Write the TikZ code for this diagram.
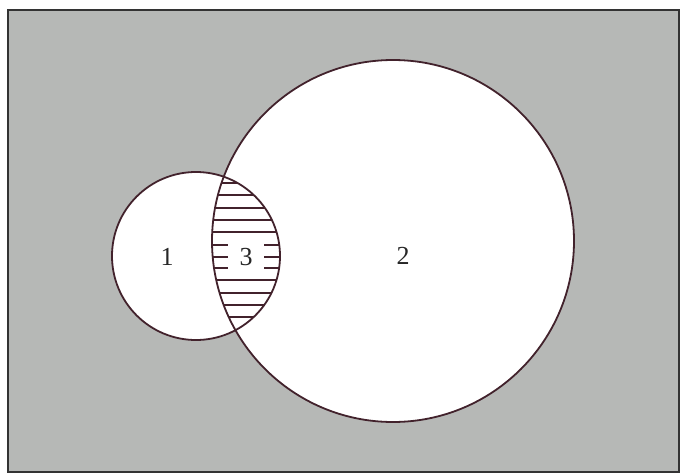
\documentclass[tikz,border=0pt]{standalone}
\usepackage{fontspec}
\setmainfont{Liberation Serif}
\usepackage{tikz}
\usetikzlibrary{positioning}

\definecolor{paper}{RGB}{182,184,182}
\definecolor{ink}{RGB}{66,34,44}

\begin{document}
\begin{tikzpicture}[
    x=1pt, y=-1pt,
    outline/.style={draw=ink, line width=1.8pt},
    hatch/.style={draw=ink, line width=2pt},
    region/.style={font=\fontsize{26}{30}\selectfont, text=black!85}]
    \useasboundingbox (0,0) rectangle (680,474);
    % frame and background
    \coordinate (frameA) at (8,10);
    \coordinate (frameB) at (679,472);
    \fill[paper] (frameA) rectangle (frameB);
    \draw[black!80, line width=2pt] (frameA) rectangle (frameB);
    % the two sets
    \coordinate (small) at (196,256);
    \coordinate (big) at (393,241);
    \fill[white] (big) circle[radius=181pt];
    \fill[white] (small) circle[radius=84pt];
    % hatching of the overlap
    \begin{scope}
        \clip (small) circle[radius=84pt];
        \clip (big) circle[radius=181pt];
        \foreach \y in {183,195,208,220,232,245,257,268,280,293,305,317}
            \draw[hatch] (150,\y) -- (300,\y);
    \end{scope}
    \draw[outline] (big) circle[radius=181pt];
    \draw[outline] (small) circle[radius=84pt];
    % labels
    \node[region] (one) at (167,257) {1};
    \node[region, fill=white, minimum width=36pt, minimum height=36pt] (three) at (246,257) {3};
    \node[region] (two) at (403,256) {2};
\end{tikzpicture}
\end{document}
